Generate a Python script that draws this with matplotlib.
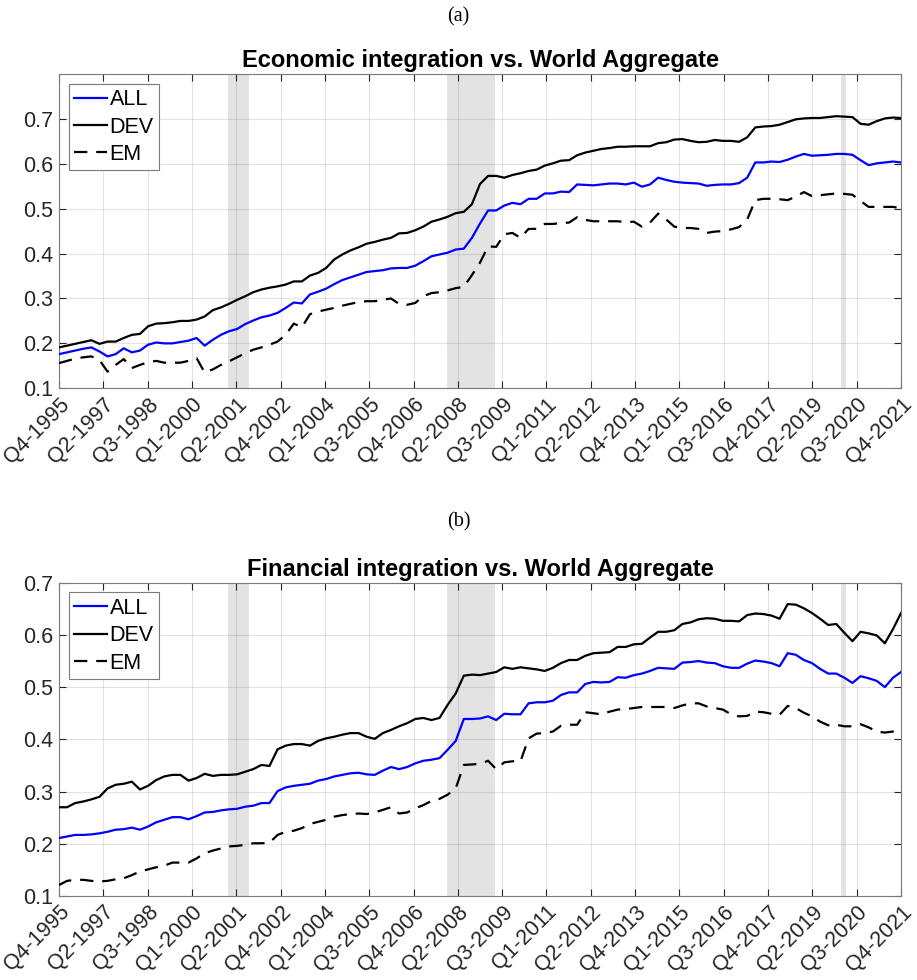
import numpy as np
import matplotlib
matplotlib.use("Agg")
import matplotlib.pyplot as plt

# Quarterly series, Q4-1995 .. Q4-2021 (105 quarters)
econ_all = [0.176, 0.180, 0.184, 0.188, 0.191, 0.182, 0.171, 0.176, 0.189, 0.180,
            0.184, 0.197, 0.202, 0.200, 0.200, 0.203, 0.206, 0.212, 0.195, 0.208,
            0.219, 0.227, 0.232, 0.243, 0.251, 0.258, 0.262, 0.268, 0.279, 0.291,
            0.289, 0.309, 0.315, 0.322, 0.332, 0.341, 0.347, 0.353, 0.359, 0.361,
            0.363, 0.367, 0.368, 0.368, 0.373, 0.383, 0.394, 0.398, 0.402, 0.409,
            0.411, 0.435, 0.467, 0.496, 0.496, 0.507, 0.513, 0.510, 0.522, 0.522,
            0.534, 0.534, 0.538, 0.537, 0.554, 0.553, 0.552, 0.554, 0.556, 0.556,
            0.554, 0.558, 0.549, 0.554, 0.569, 0.564, 0.560, 0.558, 0.557, 0.556,
            0.551, 0.553, 0.554, 0.554, 0.557, 0.569, 0.603, 0.603, 0.605, 0.604,
            0.609, 0.616, 0.622, 0.618, 0.619, 0.620, 0.622, 0.622, 0.620, 0.608,
            0.597, 0.601, 0.603, 0.605, 0.603]
econ_dev = [0.191, 0.195, 0.199, 0.203, 0.207, 0.199, 0.204, 0.204, 0.212, 0.219,
            0.221, 0.238, 0.244, 0.245, 0.247, 0.250, 0.250, 0.253, 0.260, 0.274,
            0.280, 0.288, 0.297, 0.305, 0.314, 0.320, 0.324, 0.327, 0.331, 0.338,
            0.338, 0.351, 0.357, 0.368, 0.387, 0.398, 0.407, 0.414, 0.422, 0.426,
            0.431, 0.435, 0.445, 0.446, 0.452, 0.460, 0.471, 0.476, 0.482, 0.490,
            0.493, 0.510, 0.555, 0.573, 0.573, 0.569, 0.575, 0.579, 0.584, 0.587,
            0.596, 0.601, 0.607, 0.608, 0.619, 0.625, 0.629, 0.633, 0.635, 0.638,
            0.638, 0.639, 0.639, 0.639, 0.646, 0.648, 0.654, 0.655, 0.651, 0.648,
            0.649, 0.653, 0.651, 0.651, 0.649, 0.659, 0.681, 0.683, 0.684, 0.687,
            0.693, 0.699, 0.701, 0.702, 0.702, 0.704, 0.706, 0.705, 0.704, 0.689,
            0.687, 0.695, 0.701, 0.703, 0.702]
econ_em = [0.156, 0.161, 0.166, 0.169, 0.171, 0.163, 0.137, 0.152, 0.165, 0.145,
           0.152, 0.158, 0.161, 0.157, 0.157, 0.157, 0.161, 0.167, 0.135, 0.142,
           0.152, 0.160, 0.169, 0.178, 0.186, 0.191, 0.197, 0.204, 0.219, 0.244,
           0.236, 0.265, 0.271, 0.275, 0.279, 0.284, 0.288, 0.292, 0.294, 0.294,
           0.297, 0.300, 0.288, 0.286, 0.290, 0.305, 0.312, 0.314, 0.318, 0.323,
           0.326, 0.352, 0.380, 0.416, 0.415, 0.443, 0.446, 0.435, 0.455, 0.455,
           0.466, 0.466, 0.468, 0.469, 0.481, 0.475, 0.472, 0.472, 0.472, 0.472,
           0.470, 0.471, 0.460, 0.469, 0.489, 0.476, 0.460, 0.457, 0.457, 0.455,
           0.446, 0.449, 0.450, 0.454, 0.459, 0.476, 0.519, 0.522, 0.522, 0.521,
           0.519, 0.527, 0.537, 0.528, 0.530, 0.532, 0.534, 0.533, 0.531, 0.517,
           0.504, 0.504, 0.504, 0.504, 0.501]

fin_all = [0.211, 0.214, 0.217, 0.217, 0.218, 0.220, 0.223, 0.227, 0.228, 0.231,
           0.227, 0.233, 0.241, 0.246, 0.251, 0.251, 0.247, 0.253, 0.260, 0.261,
           0.264, 0.266, 0.267, 0.271, 0.273, 0.278, 0.278, 0.301, 0.308, 0.311,
           0.313, 0.315, 0.321, 0.324, 0.329, 0.332, 0.335, 0.336, 0.333, 0.332,
           0.340, 0.347, 0.343, 0.347, 0.354, 0.359, 0.361, 0.364, 0.380, 0.397,
           0.439, 0.439, 0.440, 0.444, 0.437, 0.449, 0.448, 0.448, 0.469, 0.471,
           0.471, 0.474, 0.485, 0.490, 0.490, 0.506, 0.510, 0.509, 0.510, 0.519,
           0.518, 0.523, 0.526, 0.531, 0.537, 0.536, 0.535, 0.547, 0.548, 0.550,
           0.547, 0.546, 0.540, 0.537, 0.537, 0.545, 0.551, 0.549, 0.546, 0.540,
           0.565, 0.562, 0.552, 0.546, 0.535, 0.526, 0.526, 0.518, 0.508, 0.521,
           0.517, 0.512, 0.500, 0.518, 0.529]
fin_dev = [0.270, 0.270, 0.278, 0.281, 0.285, 0.290, 0.306, 0.313, 0.315, 0.319,
           0.304, 0.311, 0.322, 0.329, 0.332, 0.332, 0.321, 0.326, 0.334, 0.330,
           0.332, 0.332, 0.333, 0.338, 0.343, 0.351, 0.349, 0.381, 0.388, 0.391,
           0.391, 0.388, 0.397, 0.402, 0.405, 0.409, 0.412, 0.412, 0.405, 0.401,
           0.412, 0.418, 0.425, 0.431, 0.439, 0.441, 0.437, 0.441, 0.466, 0.488,
           0.522, 0.524, 0.523, 0.526, 0.529, 0.538, 0.535, 0.538, 0.536, 0.534,
           0.531, 0.537, 0.546, 0.552, 0.552, 0.560, 0.565, 0.566, 0.567, 0.577,
           0.577, 0.582, 0.583, 0.595, 0.606, 0.606, 0.609, 0.621, 0.624, 0.630,
           0.632, 0.631, 0.627, 0.627, 0.626, 0.638, 0.641, 0.640, 0.637, 0.631,
           0.659, 0.658, 0.651, 0.642, 0.631, 0.619, 0.621, 0.604, 0.588, 0.606,
           0.603, 0.599, 0.584, 0.611, 0.642]
fin_em = [0.121, 0.129, 0.131, 0.131, 0.129, 0.128, 0.129, 0.132, 0.134, 0.140,
          0.147, 0.151, 0.155, 0.158, 0.164, 0.164, 0.164, 0.172, 0.182, 0.187,
          0.191, 0.195, 0.196, 0.198, 0.201, 0.201, 0.202, 0.217, 0.223, 0.225,
          0.230, 0.238, 0.242, 0.246, 0.252, 0.255, 0.257, 0.258, 0.257, 0.260,
          0.265, 0.270, 0.258, 0.260, 0.268, 0.274, 0.282, 0.286, 0.294, 0.306,
          0.351, 0.352, 0.353, 0.359, 0.343, 0.356, 0.358, 0.358, 0.402, 0.411,
          0.412, 0.415, 0.426, 0.428, 0.428, 0.452, 0.450, 0.448, 0.453, 0.457,
          0.458, 0.460, 0.462, 0.462, 0.462, 0.462, 0.460, 0.465, 0.469, 0.469,
          0.463, 0.460, 0.457, 0.448, 0.444, 0.445, 0.453, 0.452, 0.449, 0.447,
          0.464, 0.460, 0.451, 0.444, 0.434, 0.427, 0.428, 0.425, 0.425, 0.429,
          0.423, 0.415, 0.413, 0.415, 0.419]

tick_labels = ["Q4-1995", "Q2-1997", "Q3-1998", "Q1-2000", "Q2-2001", "Q4-2002",
               "Q1-2004", "Q3-2005", "Q4-2006", "Q2-2008", "Q3-2009", "Q1-2011",
               "Q2-2012", "Q4-2013", "Q1-2015", "Q3-2016", "Q4-2017", "Q2-2019",
               "Q3-2020", "Q4-2021"]

# recession bands, in quarters since Q4-1995
recessions = [(20.9, 23.5), (47.9, 53.9), (96.6, 97.2)]

panels = [
    ("(a)", "Economic integration vs. World Aggregate", econ_all, econ_dev, econ_em, (0.1, 0.8)),
    ("(b)", "Financial integration vs. World Aggregate", fin_all, fin_dev, fin_em, (0.1, 0.7)),
]

plt.rcParams['font.family'] = ['Liberation Sans', 'DejaVu Sans']
axis_gray = '#262626'

fig = plt.figure(figsize=(9.17, 9.8), dpi=100)
boxes = [[0.0643, 0.6038, 0.9183, 0.3207], [0.0643, 0.0857, 0.9183, 0.3197]]
label_y = [0.993, 0.477]

for box, ly, (tag, title, s_all, s_dev, s_em, ylim) in zip(boxes, label_y, panels):
    ax = fig.add_axes(box)
    x = np.arange(len(s_all))

    for a, b in recessions:
        ax.axvspan(a, b, color='#e3e3e3', lw=0, zorder=0.5)

    ax.plot(x, s_all, color='#0000ff', lw=1.6, label='ALL', zorder=3)
    ax.plot(x, s_dev, color='black', lw=1.6, label='DEV', zorder=3)
    ax.plot(x, s_em, color='black', lw=1.6, ls=(0, (6, 4)), label='EM', zorder=3)

    ax.set_xlim(0, len(s_all) - 1)
    ax.set_ylim(*ylim)
    ax.set_xticks(np.linspace(0, len(s_all) - 1, len(tick_labels)))
    ax.set_xticklabels(tick_labels, rotation=45, ha='right', rotation_mode='anchor')
    ax.set_yticks(np.arange(0.1, 0.75, 0.1))
    ax.set_yticklabels([f"{v:.1f}" for v in np.arange(0.1, 0.75, 0.1)])

    ax.grid(True, color='#262626', alpha=0.12, lw=0.8)
    ax.set_axisbelow(True)
    ax.tick_params(direction='in', top=True, right=True, length=5, width=0.8,
                   labelsize=15.5, colors=axis_gray, pad=4)
    for sp in ax.spines.values():
        sp.set_color('#7a7a7a')
        sp.set_linewidth(0.8)

    ax.set_title(title, fontsize=17, fontweight='bold', color='black', pad=5)
    leg = ax.legend(loc='upper left', fontsize=15.5, handlelength=1.55, handletextpad=0.1,
                    borderpad=0.25, labelspacing=0.3, borderaxespad=0.45,
                    fancybox=False, framealpha=1)
    leg.get_frame().set_edgecolor('#7a7a7a')
    leg.get_frame().set_linewidth(0.8)

    fig.text(0.5, ly, tag, ha='center', va='top', fontsize=14.5,
             family=['Liberation Serif', 'DejaVu Serif'])

fig.savefig('out.png', dpi=100)
